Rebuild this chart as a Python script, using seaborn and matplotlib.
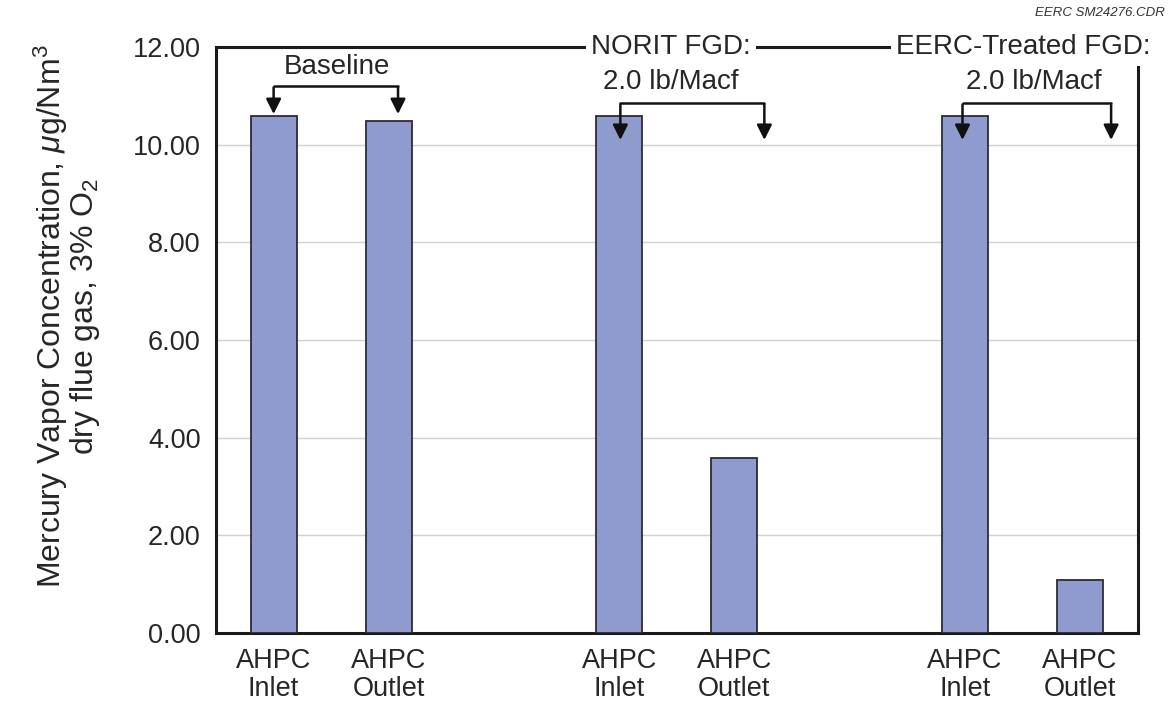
import numpy as np
import pandas as pd
import matplotlib
matplotlib.use('Agg')
import matplotlib.pyplot as plt
import seaborn as sns

# значения
slots = ['Baseline Inlet', 'Baseline Outlet', 'gap1',
         'NORIT Inlet', 'NORIT Outlet', 'gap2',
         'EERC Inlet', 'EERC Outlet']
categories = ['Baseline Inlet', 'Baseline Outlet', 'NORIT Inlet',
              'NORIT Outlet', 'EERC Inlet', 'EERC Outlet']
values = [10.58, 10.49, 10.58, 3.59, 10.58, 1.08]
tick_labels = ['AHPC\nInlet', 'AHPC\nOutlet', '', 'AHPC\nInlet', 'AHPC\nOutlet',
               '', 'AHPC\nInlet', 'AHPC\nOutlet']
y_ticks = [0, 2, 4, 6, 8, 10, 12]

sns.set_style('white')
plt.rcParams['font.family'] = ['Liberation Sans', 'DejaVu Sans']
plt.rcParams['mathtext.fontset'] = 'custom'
plt.rcParams['mathtext.rm'] = 'Liberation Sans'
plt.rcParams['mathtext.it'] = 'Liberation Sans:italic'

df = pd.DataFrame({'slot': categories, 'value': values})

fig = plt.figure(figsize=(11.74, 7.06), dpi=100)
ax = fig.add_axes([0.184, 0.1034, 0.785, 0.830])

sns.barplot(data=df, x='slot', y='value', order=slots, width=0.4,
            color='#8f9bcc', saturation=1, edgecolor='#2b2b3a', linewidth=1.3,
            ax=ax, zorder=3)

ax.set_xlim(-0.5, 7.5)
ax.set_ylim(0, 12)
ax.set_yticks(y_ticks)
ax.set_yticklabels([f'{v:.2f}' for v in y_ticks], fontsize=19.5)
ax.yaxis.grid(True, color='#d0d0d0', linewidth=1, zorder=0)
ax.set_axisbelow(True)

ax.set_xticks(range(len(slots)))
ax.set_xticklabels(tick_labels, fontsize=19.5, linespacing=1.1)
ax.set_xticks(np.arange(-0.5, 8, 1), minor=True)
ax.tick_params(axis='x', which='major', length=0, pad=11)
ax.tick_params(axis='x', which='minor', length=8, width=2, direction='out', color='#222')
ax.tick_params(axis='y', length=7, width=2, direction='out', color='#222', pad=4)
ax.set_xlabel('')
ax.set_ylabel('Mercury Vapor Concentration, $\\mathit{\\mu}$g/Nm$^3$\ndry flue gas, 3% O$_2$',
              fontsize=23, linespacing=0.9)
ax.yaxis.set_label_coords(-0.124, 0.54)

for s in ax.spines.values():
    s.set_linewidth(2.2)
    s.set_color('#1a1a1a')

txt_kw = dict(fontsize=20, ha='center', va='center', clip_on=False, zorder=6)
white = dict(facecolor='white', edgecolor='none', pad=4)

# Baseline
ax.text(0.55, 11.6, 'Baseline', **txt_kw)
ax.plot([0, 1.08], [11.21, 11.21], color='#111', lw=1.8, zorder=5)
for xa in [0, 1.08]:
    ax.annotate('', xy=(xa, 10.57), xytext=(xa, 11.23),
                arrowprops=dict(arrowstyle='-|>,head_length=0.9,head_width=0.45',
                                color='#111', lw=1.8), zorder=5)

# NORIT и EERC
groups = [(3.45, 'NORIT FGD:', 3.45, 3.01, 4.26),
          (6.51, 'EERC-Treated FGD:', 6.6, 5.98, 7.27)]
for xt, name, xs, xl, xr in groups:
    ax.text(xt, 12.0, name, bbox=white, **txt_kw)
    ax.text(xs, 11.29, '2.0 lb/Macf', **txt_kw)
    ax.plot([xl, xr], [10.86, 10.86], color='#111', lw=1.8, zorder=5)
    for xa in [xl, xr]:
        ax.annotate('', xy=(xa, 10.04), xytext=(xa, 10.88),
                    arrowprops=dict(arrowstyle='-|>,head_length=0.9,head_width=0.45',
                                    color='#111', lw=1.8), zorder=5)

fig.text(0.937, 0.982, 'EERC SM24276.CDR', fontsize=9.5, style='italic',
         ha='center', va='center', color='#333')

plt.savefig('out.png', dpi=100)
